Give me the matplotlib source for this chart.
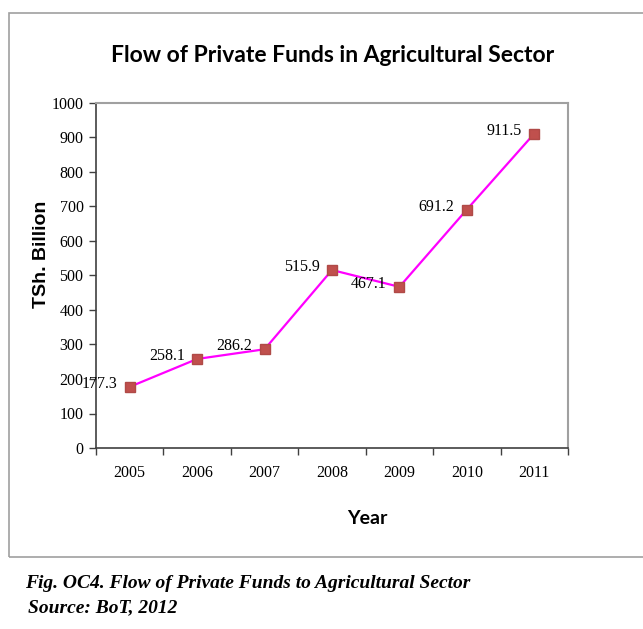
import matplotlib.pyplot as plt
from matplotlib.patches import Rectangle

years = ['2005', '2006', '2007', '2008', '2009', '2010', '2011']
funds = [177.3, 258.1, 286.2, 515.9, 467.1, 691.2, 911.5]
y_ticks = [0, 100, 200, 300, 400, 500, 600, 700, 800, 900, 1000]

W, H = 643, 629
fig = plt.figure(figsize=(W / 100, H / 100), dpi=100)
fig.patch.set_facecolor('white')

# outer chart frame
fig.patches.append(Rectangle((9 / W, 1 - 557 / H), (W + 5 - 9) / W, (557 - 13) / H,
                             transform=fig.transFigure, fill=False,
                             edgecolor='#a0a0a0', linewidth=1.2))

ax = fig.add_axes([96 / W, 1 - 448 / H, (568 - 96) / W, (448 - 103) / H])
x = list(range(len(years)))
ax.plot(x, funds, color='#ff00ff', linewidth=1.6, zorder=2)
ax.plot(x, funds, linestyle='none', marker='s', markersize=7.5,
        color='#c0504d', markeredgecolor='#b04a47', zorder=3)

for xi, v in zip(x, funds):
    ax.annotate(f'{v:.1f}', (xi, v), xytext=(-9, 2), textcoords='offset points',
                ha='right', va='center', fontsize=11.5, family='Liberation Serif')

ax.set_xlim(-0.5, len(years) - 0.5)
ax.set_ylim(0, 1000)
ax.set_yticks(y_ticks)
ax.set_yticklabels([str(t) for t in y_ticks], family='Liberation Serif', fontsize=11.5)
ax.set_xticks(x)
ax.set_xticklabels(years, family='Liberation Serif', fontsize=11.5)
ax.set_xticks([i + 0.5 for i in range(-1, len(years))], minor=True)
ax.tick_params(axis='x', which='major', length=0, pad=12)
ax.tick_params(axis='x', which='minor', length=5, color='#404040', width=1)
ax.tick_params(axis='y', length=5, color='#404040', width=1, pad=4)

for s in ['left', 'bottom']:
    ax.spines[s].set_color('#404040')
    ax.spines[s].set_linewidth(1.2)
for s in ['top', 'right']:
    ax.spines[s].set_color('#a0a0a0')
    ax.spines[s].set_linewidth(1.5)

fig.text(333 / W, 1 - 55 / H, 'Flow of Private Funds in Agricultural Sector',
         ha='center', va='center', fontsize=16.5, fontweight='bold',
         family=['Lato', 'DejaVu Sans'])
fig.text(42 / W, 1 - 254 / H, 'TSh. Billion', ha='center', va='center',
         rotation=90, fontsize=14, fontweight='bold', family='Liberation Sans')
fig.text(367 / W, 1 - 518 / H, 'Year', ha='center', va='center',
         fontsize=14, fontweight='bold', family=['Lato', 'DejaVu Sans'])

fig.text(25 / W, 1 - 583 / H, 'Fig. OC4. Flow of Private Funds to Agricultural Sector',
         ha='left', va='center', fontsize=14, fontweight='bold', style='italic',
         family='Liberation Serif')
fig.text(28 / W, 1 - 608 / H, 'Source: BoT, 2012',
         ha='left', va='center', fontsize=14, fontweight='bold', style='italic',
         family='Liberation Serif')

fig.savefig('out.png', dpi=100)
